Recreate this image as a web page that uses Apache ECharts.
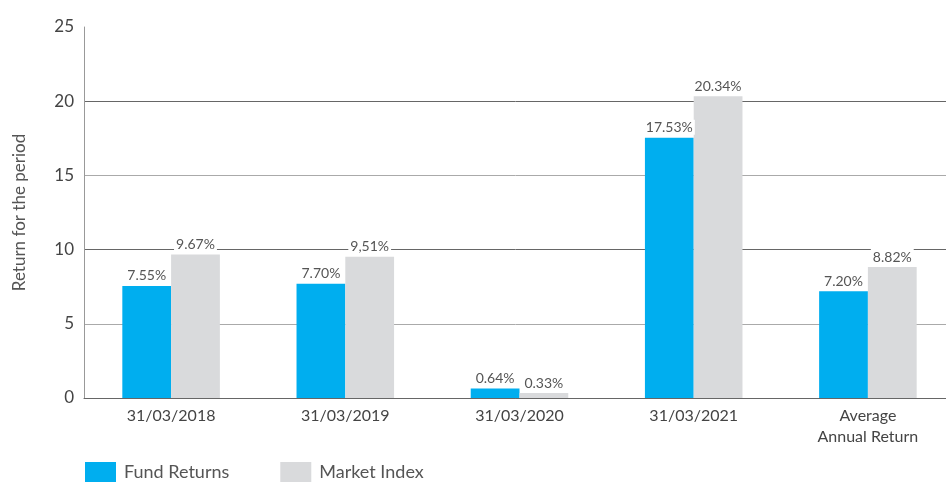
<!DOCTYPE html>
<html>
<head>
<meta charset="utf-8">
<script src="https://cdn.jsdelivr.net/npm/echarts@6/dist/echarts.min.js"></script>
<style>html,body{margin:0;padding:0;background:#fff;}#c{width:946px;height:482px;}</style>
</head>
<body>
<div id="c"></div>
<script>
var categories = ['31/03/2018', '31/03/2019', '31/03/2020', '31/03/2021', 'Average\nAnnual Return'];
var fundReturns = [7.55, 7.70, 0.64, 17.53, 7.20];
var marketIndex = [9.67, 9.51, 0.33, 20.34, 8.82];
var fundLabels = ['7.55%', '7.70%', '0.64%', '17.53%', '7.20%'];
var marketLabels = ['9.67%', '9,51%', '0.33%', '20.34%', '8.82%'];
var yTicks = [0, 5, 10, 15, 20, 25];

var FONT = 'Lato';
var chart = echarts.init(document.getElementById('c'));
function lbl(arr) {
  return {
    show: true, position: 'top', distance: 3,
    formatter: function (p) { return arr[p.dataIndex]; },
    color: '#555', fontFamily: FONT, fontSize: 14,
    backgroundColor: '#fff', padding: [1, 2, 0, 2]
  };
}
chart.setOption({
  animation: false,
  textStyle: { fontFamily: FONT },
  grid: { left: 84, right: -9, top: 27, bottom: 84, containLabel: false, outerBoundsMode: 'none' },
  legend: {
    left: 85, top: 462, padding: 0, itemWidth: 31, itemHeight: 20, itemGap: 51,
    icon: 'rect',
    textStyle: { color: '#555', fontSize: 18, fontFamily: FONT, padding: [2, 0, 0, 3] },
    data: ['Fund Returns', 'Market Index']
  },
  xAxis: {
    type: 'category', data: categories,
    axisLine: { lineStyle: { color: '#666', width: 1 } },
    axisTick: { show: false },
    axisLabel: { color: '#444', fontSize: 16, fontFamily: FONT, margin: 7, lineHeight: 21, interval: 0 }
  },
  yAxis: {
    type: 'value', min: 0, max: 25, interval: 5,
    name: 'Return for the period', nameLocation: 'middle', nameGap: 56, nameRotate: 90,
    nameTextStyle: { color: '#555', fontSize: 17, fontFamily: FONT },
    axisLine: { show: true, lineStyle: { color: '#999' } },
    axisTick: { show: false },
    axisLabel: { color: '#444', fontSize: 17, fontFamily: FONT, margin: 10,
      formatter: function (v) { return yTicks.indexOf(v) >= 0 ? String(v) : ''; } },
    splitLine: { show: true, showMaxLine: false, lineStyle: { color: ['#666', '#aaa'], width: 1 } }
  },
  series: [
    { name: 'Fund Returns', type: 'bar', data: fundReturns, barGap: '0%', barCategoryGap: '44%',
      itemStyle: { color: '#00aeef' }, label: lbl(fundLabels) },
    { name: 'Market Index', type: 'bar', data: marketIndex,
      itemStyle: { color: '#d9dadc' }, label: lbl(marketLabels) }
  ]
});
</script>
</body>
</html>
